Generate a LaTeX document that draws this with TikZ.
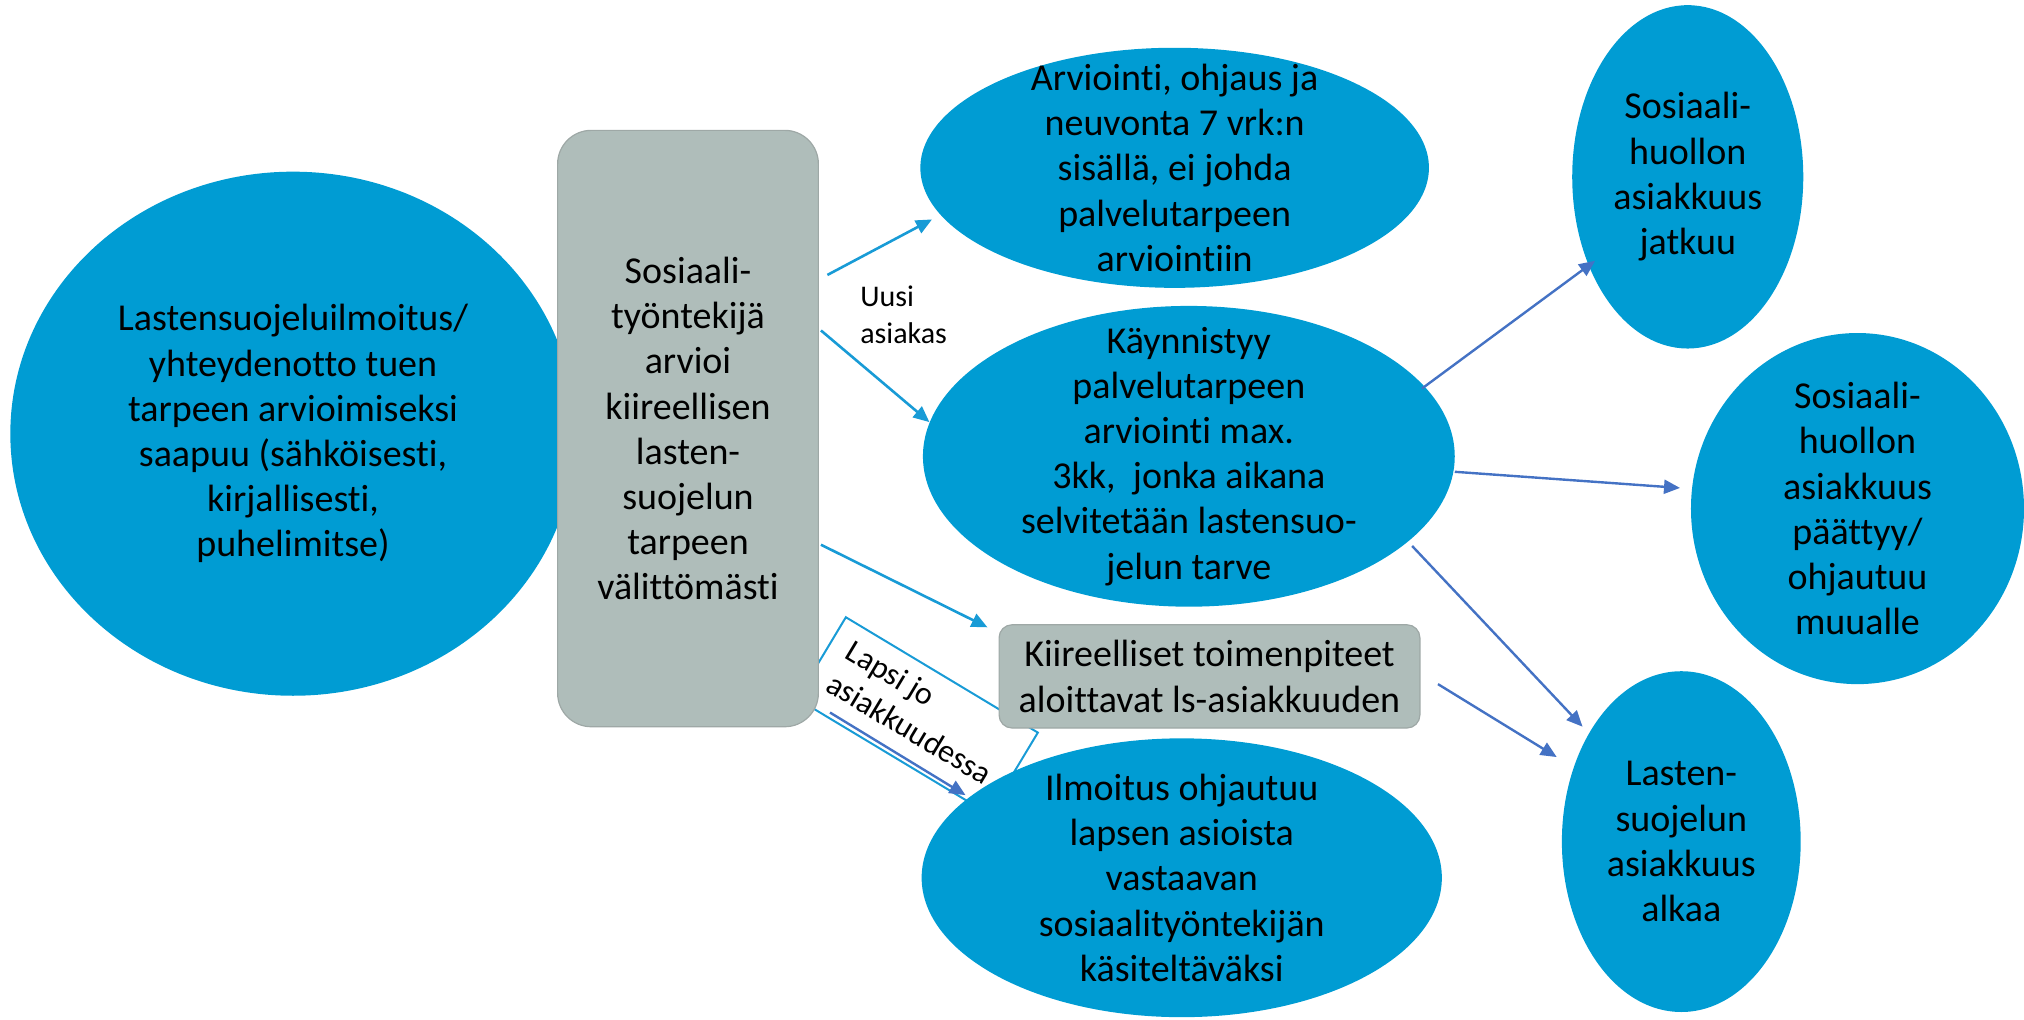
\documentclass[tikz,border=0pt]{standalone}
\usepackage{fontspec}
\setmainfont{Carlito}[Ligatures={NoCommon}]
\usetikzlibrary{shapes.geometric,arrows.meta}
\definecolor{ellblue}{HTML}{009CD3}
\definecolor{boxgray}{HTML}{AFBDBA}
\definecolor{boxedge}{HTML}{9EA8A6}
\definecolor{cyanarr}{HTML}{189BD6}
\definecolor{bluearr}{HTML}{4472C4}
\newcommand{\mfont}{\fontsize{19}{22.6}\selectfont}
\begin{document}
\begin{tikzpicture}[x=0.6454pt, y=-0.6454pt,
  every node/.style={outer sep=0pt},
  ell/.style 2 args={ellipse, fill=ellblue, inner sep=-16pt,
    minimum width=#1*0.6454pt, minimum height=#2*0.6454pt,
    align=center, font=\mfont},
  graybox/.style 2 args={rectangle, fill=boxgray, draw=boxedge, line width=0.6pt,
    minimum width=#1*0.6454pt, minimum height=#2*0.6454pt,
    align=center, font=\mfont, inner sep=1pt},
  lapsibox/.style={rectangle, draw=cyanarr, line width=1pt, rotate=-31,
    minimum width=173.5*0.6454pt, minimum height=73.6*0.6454pt, inner sep=0pt},
  lapsitext/.style={rotate=-31, align=left, inner sep=0pt,
    font={\fontsize{16}{19}\selectfont}},
  smalllabel/.style={align=left, inner sep=0pt, font={\fontsize{15}{18.5}\selectfont}},
  carr/.style={draw=cyanarr, line width=1.3pt, -{Triangle[length=8pt,width=7pt]}},
  barr/.style={draw=bluearr, line width=1.2pt, -{Triangle[length=8pt,width=7pt]}}
]
\useasboundingbox (0,0) rectangle (1568,790);

% rotated label box (drawn first, partly hidden)
\node[lapsibox] (lapsi) at (710.7,554.4) {};
\node[lapsitext] (lapsitxt) at ([shift={(1.6,-2.6)}]lapsi.center) {Lapsi jo\\asiakkuudessa};

% left ellipse
\node[ell={438}{406}] (left) at (227,336)
  {Lastensuojeluilmoitus/\\yhteydenotto tuen\\tarpeen arvioimiseksi\\saapuu (sähköisesti,\\kirjallisesti,\\puhelimitse)};

% gray tall box
\node[graybox={202}{462}, rounded corners=16.8pt] (sw) at (533,332)
  {Sosiaali-\\työntekijä\\arvioi\\kiireellisen\\lasten-\\suojelun\\tarpeen\\välittömästi};

% middle column
\node[ell={394}{186}] (top) at (910,130)
  {Arviointi, ohjaus ja\\neuvonta 7 vrk:n\\sisällä, ei johda\\palvelutarpeen\\arviointiin};
\node[ell={412}{233}] (mid) at (921,353.5)
  {Käynnistyy\\palvelutarpeen\\arviointi max.\\3kk,~ jonka aikana\\selvitetään lastensuo-\\jelun tarve};
\node[ell={403}{216}] (bot) at (915.5,680)
  {Ilmoitus ohjautuu\\lapsen asioista\\vastaavan\\sosiaalityöntekijän\\käsiteltäväksi};
\node[graybox={326}{80}, rounded corners=6.5pt] (kbox) at (937,524)
  {Kiireelliset toimenpiteet\\aloittavat ls-asiakkuuden};

% right column
\node[ell={179}{266}] (tr) at (1307.5,137)
  {Sosiaali-\\huollon\\asiakkuus\\jatkuu};
\node[ell={258}{272}] (rm) at (1439,394)
  {Sosiaali-\\huollon\\asiakkuus\\päättyy/\\ohjautuu\\muualle};
\node[ell={185}{264}] (rb) at (1302.5,652)
  {Lasten-\\suojelun\\asiakkuus\\alkaa};

% label
\node[smalllabel] (uusi) at (700,244) {Uusi\\asiakas};

% connectors
\draw[carr] ([shift={(7,-119)}]sw.east) -- ([shift={(-188,40)}]top.center);
\draw[carr] ([shift={(2,-76)}]sw.east) -- ([shift={(-201,-26.5)}]mid.center);
\draw[carr] ([shift={(2,90)}]sw.east) -- ([shift={(-9,2)}]kbox.north west);
\draw[barr] ([shift={(9,220)}]sw.east) -- ([shift={(-167.5,-64)}]bot.center);
\draw[barr] ([shift={(180.6,-52.5)}]mid.center) -- ([shift={(-71.8,65)}]tr.center);
\draw[barr] ([shift={(206,12)}]mid.center) -- ([shift={(-137.5,-16)}]rm.center);
\draw[barr] ([shift={(173,69.5)}]mid.center) -- ([shift={(-76.5,-89)}]rb.center);
\draw[barr] ([shift={(14,6)}]kbox.east) -- ([shift={(-96.5,-65.5)}]rb.center);
\end{tikzpicture}
\end{document}
